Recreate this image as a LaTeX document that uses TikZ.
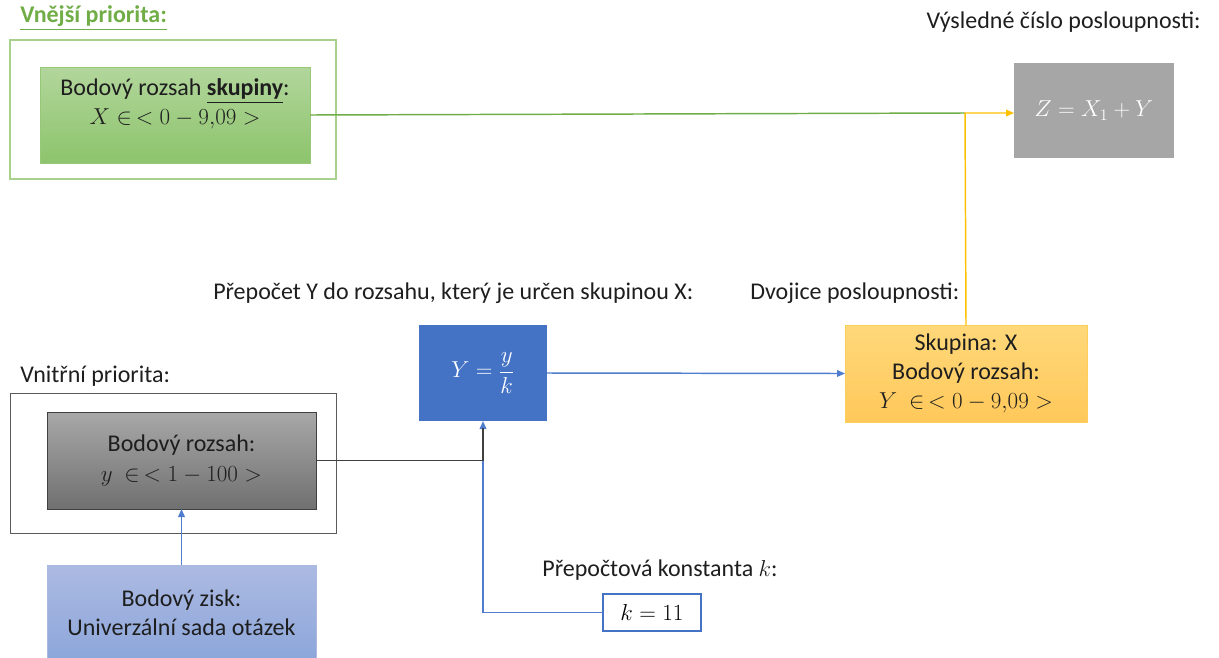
\documentclass[tikz,border=0pt]{standalone}
\usepackage{amsmath}
\usepackage{fontspec}
\setmainfont{Carlito}
\usetikzlibrary{arrows.meta}

\definecolor{grnline}{RGB}{112,173,71}
\definecolor{grnframe}{RGB}{169,209,142}
\definecolor{grntop}{RGB}{178,214,156}
\definecolor{grnbot}{RGB}{141,196,108}
\definecolor{grnedge}{RGB}{150,200,120}
\definecolor{zgray}{RGB}{166,166,166}
\definecolor{ylwline}{RGB}{255,192,0}
\definecolor{ylwtop}{RGB}{255,216,122}
\definecolor{ylwbot}{RGB}{255,200,90}
\definecolor{ylwedge}{RGB}{255,205,90}
\definecolor{bluefill}{RGB}{68,114,196}
\definecolor{blueline}{RGB}{80,125,205}
\definecolor{darkline}{RGB}{64,64,64}
\definecolor{frameline}{RGB}{90,90,90}
\definecolor{graytop}{RGB}{168,168,168}
\definecolor{graybot}{RGB}{112,112,112}
\definecolor{lbtop}{RGB}{172,186,226}
\definecolor{lbbot}{RGB}{140,166,218}
\definecolor{txt}{RGB}{30,30,30}

% size for formulas
\newcommand\fml[1]{{\fontsize{17.5}{22}\selectfont$#1$}}

\tikzset{
  pxbox/.style 2 args={minimum width=#1*0.75pt, minimum height=#2*0.75pt, inner sep=0pt, outer sep=0pt},
  body/.style={font=\fontsize{18}{22}\selectfont, text=txt, align=center},
  caption/.style={font=\fontsize{18}{22}\selectfont, text=txt, inner sep=0pt},
  link/.style={line width=1.1pt},
  tip/.style={-{Triangle[length=6pt,width=5pt]}},
}

\begin{document}
\begin{tikzpicture}[x=0.75pt,y=-0.75pt]
\useasboundingbox (0,0) rectangle (1219,657);
\clip (0,0) rectangle (1219,657);

% --- outer priority (groups) ---
\node[caption, anchor=west, text=grnline, font=\fontsize{18}{20}\selectfont\bfseries] (vnejsi) at (20,18) {\underline{Vnější priorita:}};
\node[pxbox={326}{139}, draw=grnframe, line width=0.9pt] (outerG) at (173,109.5) {};
\node[pxbox={270}{96}, top color=grntop, bottom color=grnbot, draw=grnedge, line width=0.6pt] (gbox) at (175,115) {};
\node[body] (gtxt) at (175,104) {Bodový rozsah \underline{\textbf{skupiny}}:\\ \fml{X \in\, < 0 - 9{,}09 >}};

% --- resulting number ---
\node[caption, anchor=east] (vysl) at (1201,22) {Výsledné číslo posloupnosti:};
\node[pxbox={160}{95}, fill=zgray] (zbox) at (1094,110.5) {\color{white}\fml{Z = X_1 + Y}};

% --- sequence pair ---
\node[caption, anchor=west] (dvoj) at (750,293) {Dvojice posloupnosti:};
\node[pxbox={242}{97}, top color=ylwtop, bottom color=ylwbot, draw=ylwedge, line width=0.6pt, body] (ybox) at (966,373.5) {Skupina: X\\ Bodový rozsah:\\ \fml{Y\ \in\, < 0 - 9{,}09 >}};

% --- conversion ---
\node[caption, anchor=west] (prep) at (213,293) {Přepočet Y do rozsahu, který je určen skupinou X:};
\node[pxbox={128}{96}, fill=bluefill] (ybx) at (483,373) {\color{white}\fml{Y = \dfrac{y}{k}}};

% --- inner priority ---
\node[caption, anchor=west] (vnitrni) at (20,376) {Vnitřní priorita:};
\node[pxbox={326}{140}, draw=frameline, line width=0.6pt] (outerK) at (173,463) {};
\node[pxbox={269}{97}, top color=graytop, bottom color=graybot, draw=darkline, line width=0.6pt, body] (rbox) at (181.5,460.5) {Bodový rozsah:\\ \fml{y\ \in\, < 1 - 100 >}};

% --- question set ---
\node[pxbox={269}{96}, top color=lbtop, bottom color=lbbot, draw=lbtop, line width=0.6pt, body] (zisk) at (181.5,613) {Bodový zisk:\\ Univerzální sada otázek};

% --- constant ---
\node[caption] (konst) at (660,570) {Přepočtová konstanta \fml{k}:};
\node[pxbox={98}{37}, fill=white, draw=bluefill, line width=1pt] (kbox) at (652,612.5) {\fml{k = 11}};

% --- connectors ---
\coordinate (join) at (965,113);
\coordinate (bend) at (483,460.5);
\draw[link, grnline] (gbox.east) -- (join);
\draw[link, ylwline, tip] (ybox.north) -- (join) -- (zbox.west |- join);
\draw[link, blueline, tip] (ybx.east) -- (ybox.west);
\draw[link, blueline, tip] (kbox.west) -| (ybx.south);
\draw[line width=1.4pt, darkline, shorten >=5pt] (rbox.east) -- (bend) -- (ybx.south);
\draw[link, blueline, tip] (zisk.north) -- (rbox.south);
\end{tikzpicture}
\end{document}
